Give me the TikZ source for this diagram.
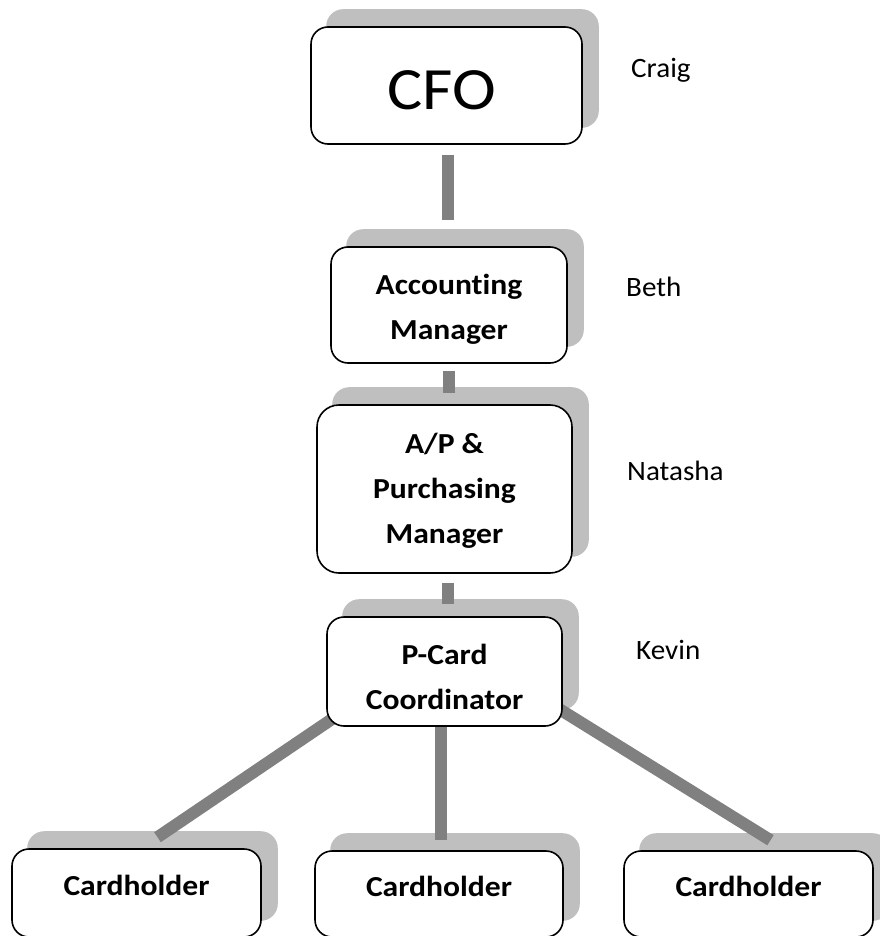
\documentclass[tikz,border=0pt]{standalone}
\usepackage{fontspec}
\setmainfont{Carlito}[Ligatures=NoCommon]
\newfontfamily\boxfont{Carlito}[FakeStretch=1.09,Ligatures=NoCommon]
\newfontfamily\cfofont{Carlito}[FakeStretch=1.1,Ligatures=NoCommon]
\newfontfamily\namefont{Carlito}[FakeStretch=1.04,Ligatures=NoCommon]
\usetikzlibrary{backgrounds}
\definecolor{shadowgray}{HTML}{BFBFBF}
\definecolor{conngray}{HTML}{808080}
\begin{document}
\begin{tikzpicture}[x=1pt,y=-1pt,
  orgbox/.style={draw=black, line width=1.6pt, fill=white, rounded corners=17pt, inner sep=0pt},
  boxtext/.style={inner sep=0pt, align=center, font=\boxfont\fontsize{29}{45}\selectfont\bfseries},
  conn/.style={draw=conngray, line width=12pt},
  person/.style={anchor=base west, inner sep=0pt, font=\namefont\fontsize{28}{34}\selectfont},
  shadowbox/.style={fill=shadowgray, rounded corners=17pt},
]
\useasboundingbox (0,0) rectangle (879,936);

% boxes
\node[orgbox, minimum width=271pt, minimum height=117pt] (cfo) at (446.5,85.5) {};
\node[orgbox, minimum width=236pt, minimum height=116pt] (acc) at (449,305) {};
\node[orgbox, rounded corners=22pt, minimum width=255pt, minimum height=168pt] (ap) at (444.5,489) {};
\node[orgbox, minimum width=235pt, minimum height=109pt] (pc) at (444.5,671.5) {};
\node[orgbox, minimum width=249pt, minimum height=88pt] (ch1) at (136.5,893) {};
\node[orgbox, minimum width=248pt, minimum height=86pt] (ch2) at (439,894) {};
\node[orgbox, minimum width=249pt, minimum height=86pt] (ch3) at (748.5,894) {};

% box texts
\node[inner sep=0pt, font=\cfofont\fontsize{60}{72}\selectfont, text height=49pt, text depth=0pt] (cfoT) at ([xshift=-5pt]cfo.center) {CFO};
\node[boxtext] (accT) at ([yshift=-4pt]acc.center) {Accounting\\Manager};
\node[boxtext] (apT) at ([yshift=-2pt]ap.center) {A/P \&\\Purchasing\\Manager};
\node[boxtext] (pcT) at ([yshift=-5pt]pc.center) {P-Card\\Coordinator};
\node[boxtext, text depth=15pt] (ch1T) at (ch1.center) {Cardholder};
\node[boxtext, text depth=15pt] (ch2T) at (ch2.center) {Cardholder};
\node[boxtext, text depth=15pt] (ch3T) at (ch3.center) {Cardholder};

% names
\node[person] (craig) at (631,78) {Craig};
\node[person] (beth) at (626,296) {Beth};
\node[person] (natasha) at (627,480) {Natasha};
\node[person] (kevin) at (636,659) {Kevin};

\begin{scope}[on background layer]
  \foreach \n in {cfo,acc,ap,pc,ch1,ch2,ch3}
    \fill[shadowbox] ([xshift=16pt,yshift=17pt]\n.south west) rectangle ([xshift=16pt,yshift=17pt]\n.north east);
  \draw[conn, shorten <=10pt, shorten >=26pt] ([xshift=1pt]cfo.south) -- ([xshift=1pt]cfo.south |- acc.north);
  \draw[conn, shorten <=7pt, shorten >=11pt] (acc.south) -- (acc.south |- ap.north);
  \draw[conn, shorten <=9pt, shorten >=12pt] ([xshift=3pt]ap.south) -- ([xshift=3pt]ap.south |- pc.north);
  \draw[conn, shorten >=10pt] ([xshift=-3.5pt]pc.south) -- ([xshift=-3.5pt]pc.south |- ch2.north);
  \draw[conn] ([xshift=18pt,yshift=16pt]pc.south west) -- ([xshift=21pt,yshift=11pt]ch1.north);
  \draw[conn] ([xshift=-12pt,yshift=23pt]pc.south east) -- ([xshift=22pt,yshift=10pt]ch3.north);
\end{scope}
\end{tikzpicture}
\end{document}
